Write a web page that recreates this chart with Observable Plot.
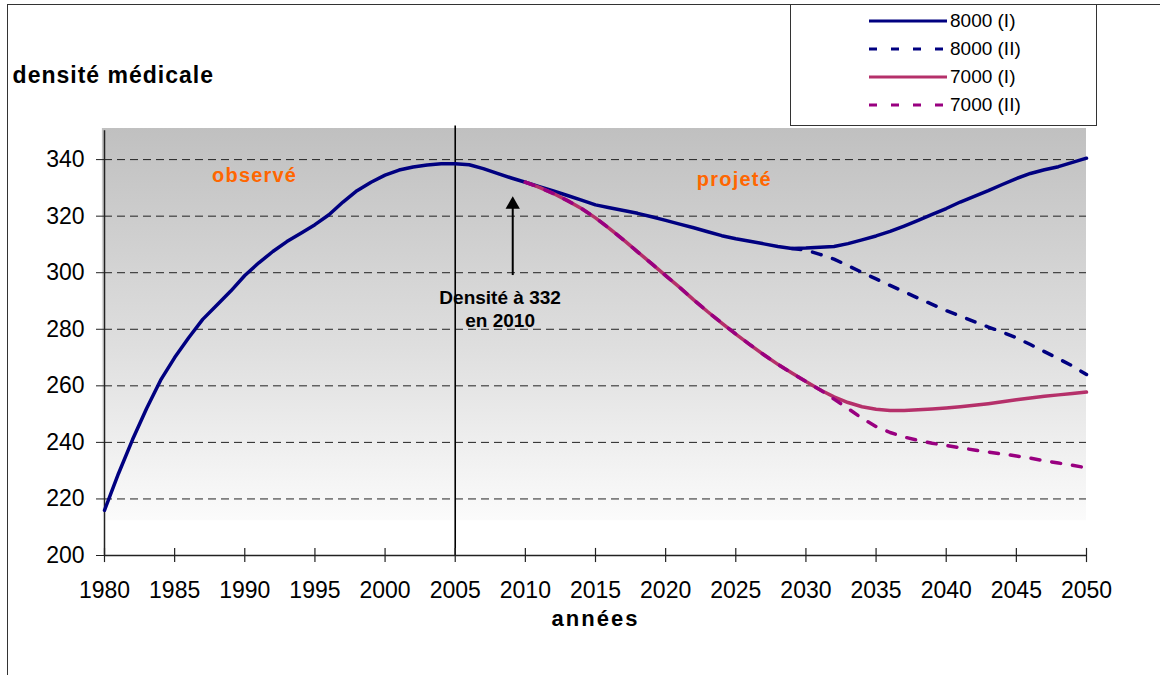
<!DOCTYPE html>
<html><head><meta charset="utf-8">
<script src="https://cdn.jsdelivr.net/npm/d3@7"></script>
<script src="https://cdn.jsdelivr.net/npm/@observablehq/plot@0.6"></script>
<style>
body{margin:0;background:#fff;font-family:"Liberation Sans",Arial,sans-serif;}
#wrap{position:relative;width:1160px;height:675px;overflow:hidden;}
#frame{position:absolute;left:7px;top:4px;width:1160px;height:690px;border-left:1.5px solid #333;border-top:1.5px solid #333;box-sizing:border-box;}
#chart{position:absolute;left:0;top:0;}
#legend{position:absolute;left:790px;top:4px;width:307px;height:122px;border:1.5px solid #333;box-sizing:border-box;background:#fff;}
.lrow{position:absolute;left:0;height:22px;width:300px;}
.lrow svg{position:absolute;left:76px;top:0;}
.lrow span{position:absolute;left:159px;top:0;line-height:22px;font-size:19px;color:#000;white-space:nowrap;}
.ls1 text{letter-spacing:1px;}
.ls2 text{letter-spacing:2px;}
.ls3 text{letter-spacing:1.2px;}
</style>
</head><body>
<div id="wrap"><div id="chart"></div><div id="frame"></div><div id="legend"></div></div>
<script>
// ---- data ----
const years8000I = d3.range(1980, 2051);
const val8000I = [216,229,241,252,262,270,277,283.5,288.5,293.5,
  299,303.5,307.5,311,314,317,320.5,325,329,332,
  334.5,336.3,337.4,338.1,338.5,338.5,338.2,336.8,335.1,333.5,
  332,330.4,328.9,327.3,325.7,324,323,322,321,319.8,
  318.5,317.2,315.9,314.5,313.1,312,311.1,310.2,309.3,308.6,
  308.7,309,309.3,310.3,311.6,313,314.6,316.5,318.5,320.6,
  322.7,325,327,329,331.2,333.3,335.1,336.4,337.5,339,340.5];
const years8000II = d3.range(2029, 2051);
const val8000II = [308.6,308,306.5,304.8,302.5,300.1,297.8,295.5,293.3,291,288.8,
  286.6,284.7,282.7,280.8,279,277,274.6,272.1,269.6,267,264];
const years7000 = d3.range(2010, 2051);
const val7000I = [332,330.2,328,325.5,322.7,319.4,315.6,311.6,307.4,303.2,
  299,294.8,290.4,286.2,282.2,278.3,274.6,271,267.6,264.5,
  261.5,258.6,256.1,254.1,252.6,251.7,251.3,251.3,251.5,251.8,
  252.2,252.6,253.1,253.7,254.4,255.1,255.7,256.3,256.8,257.3,257.8];
const val7000II = [332,330.2,328,325.5,322.7,319.4,315.6,311.6,307.4,303.2,
  299,294.8,290.4,286.2,282.2,278.3,274.6,271,267.6,264.5,
  261.5,258.6,255.3,252,248.5,245.6,243.5,241.9,240.7,239.7,
  238.9,238.1,237.3,236.6,235.9,235.2,234.4,233.5,232.7,231.9,231];
const seriesNames = ["8000 (I)","8000 (II)","7000 (I)","7000 (II)"];
const seriesColors = ["#000080","#000080","#b5306a","#990080"];
const seriesDash = [null,"9,12",null,"9,12"];
const xTicks = d3.range(1980, 2051, 5);
const yTicks = [200,220,240,260,280,300,320,340];
const gridValues = [220,240,260,280,300,320,340];

const toRows = (xs, vs) => xs.map((x, i) => ({x, y: vs[i]}));
const s8I = toRows(years8000I, val8000I);
const s8II = toRows(years8000II, val8000II);
const s7I = toRows(years7000, val7000I);
const s7II = toRows(years7000, val7000II);

const ns = "http://www.w3.org/2000/svg";
const defsMark = () => {
  const d = document.createElementNS(ns, "defs");
  d.innerHTML = '<linearGradient id="bggrad" x1="0" y1="0" x2="0" y2="1">' +
    '<stop offset="0" stop-color="#c0c0c0"/><stop offset="0.55" stop-color="#dedede"/><stop offset="1" stop-color="#fbfbfb"/></linearGradient>';
  return d;
};

const font = "Liberation Sans, Arial, sans-serif";
const lineOpts = (i) => ({x: "x", y: "y", stroke: seriesColors[i], strokeWidth: 3.5,
  strokeDasharray: seriesDash[i] || undefined, curve: "linear", strokeLinejoin: "round"});

const chart = Plot.plot({
  width: 1160, height: 675,
  marginLeft: 104, marginRight: 74, marginTop: 128, marginBottom: 120,
  x: {domain: [1980, 2050], label: null},
  y: {domain: [200, 351], label: null},
  style: {fontFamily: font, background: "transparent", color: "#000", overflow: "visible"},
  marks: [
    defsMark,
    Plot.rect([0], {x1: 1979.85, x2: 2050, y1: 212.3, y2: 351, fill: "url(#bggrad)"}),
    Plot.ruleY(gridValues, {x1: 1980, x2: 2050, stroke: "#222", strokeWidth: 1, strokeDasharray: "8,5"}),
    Plot.ruleX([2005], {y1: 200, y2: 351.9, stroke: "#000", strokeWidth: 1.6}),
    Plot.ruleX([1980], {y1: 200, y2: 350.2, stroke: "#222", strokeWidth: 1.5}),
    Plot.ruleY([200], {x1: 1980, x2: 2050, stroke: "#222", strokeWidth: 1.5}),
    Plot.ruleX(xTicks, {y1: 197.5, y2: 202.5, stroke: "#222", strokeWidth: 1.2}),
    Plot.axisY({ticks: yTicks, tickSize: 8, tickPadding: 12, fontSize: 23, label: null, stroke: "#222"}),
    Plot.axisX({ticks: xTicks, tickSize: 0, tickPadding: 26, fontSize: 23, label: null, tickFormat: d => String(d)}),
    Plot.line(s8I, lineOpts(0)),
    Plot.line(s8II, lineOpts(1)),
    Plot.line(s7I, lineOpts(2)),
    Plot.line(s7II, lineOpts(3)),
    // annotations
    Plot.ruleX([2009.1], {y1: 299, y2: 323.3, stroke: "#000", strokeWidth: 2}),
    Plot.dot([2009.1], {x: d => d, y: 324.1, symbol: "triangle", r: 5.3, fill: "#000", stroke: "none"}),
    Plot.text(["Densité à 332\nen 2010"], {x: 2008.2, y: 287.5, text: d => d, fontSize: 19, fontWeight: "bold", lineHeight: 1.2, lineAnchor: "middle", fill: "#000"}),
    Plot.text(["observé"], {x: 1990.7, y: 334.3, text: d => d, fontSize: 20, fontWeight: "bold", fill: "#ff6600", className: "ls3"}),
    Plot.text(["projeté"], {x: 2024.9, y: 333, text: d => d, fontSize: 20, fontWeight: "bold", fill: "#ff6600", className: "ls3"}),
    Plot.text(["densité médicale"], {x: 1973.45, y: 369.7, text: d => d, textAnchor: "start", fontSize: 23, fontWeight: "bold", fill: "#000", className: "ls1"}),
    Plot.text(["années"], {x: 2015, y: 177.7, text: d => d, fontSize: 22, fontWeight: "bold", fill: "#000", className: "ls2"})
  ]
});
document.getElementById("chart").appendChild(chart);

// legend
const legend = document.getElementById("legend");
const rowCenters = [15.7, 44.3, 71.7, 100];
seriesNames.forEach((name, i) => {
  const row = document.createElement("div");
  row.className = "lrow";
  row.style.top = (rowCenters[i] - 11) + "px";
  const dash = seriesDash[i] ? ` stroke-dasharray="8,14"` : "";
  row.innerHTML = `<svg width="82" height="22"><line x1="2" x2="80" y1="11" y2="11" stroke="${seriesColors[i]}" stroke-width="3.2"${dash}/></svg><span>${name}</span>`;
  legend.appendChild(row);
});
</script>
</body></html>
